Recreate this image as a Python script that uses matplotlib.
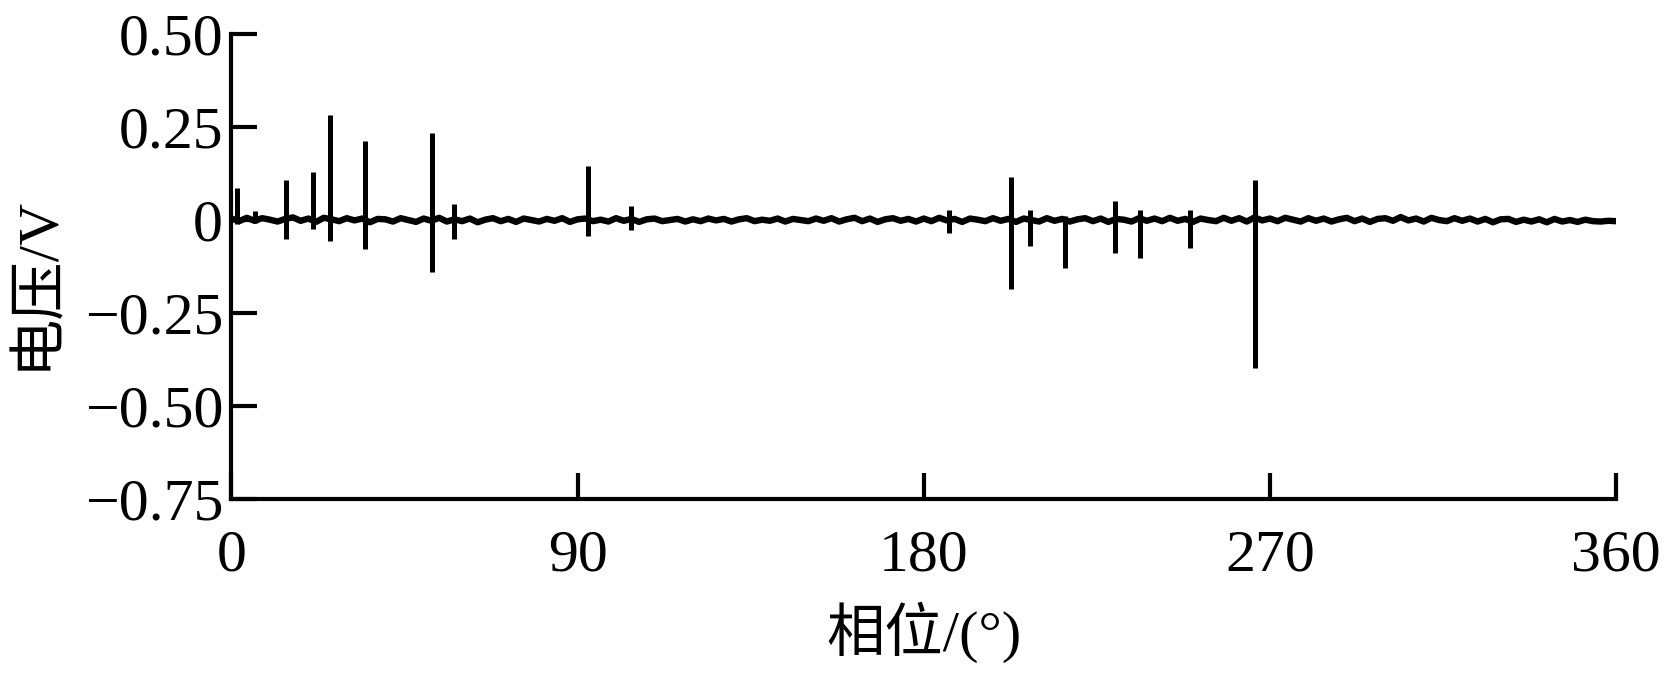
import matplotlib.pyplot as plt
import numpy as np

plt.rcParams['font.family'] = ['Liberation Serif', 'Noto Sans CJK SC']
plt.rcParams['axes.unicode_minus'] = True

# baseline noise, sampled every 2 degrees from 0 to 360 (V)
noise_phase = np.arange(0, 361, 2)
noise = [
    0.004, -0.003, 0.006, -0.002, 0.005, 0.001, -0.004, 0.003, 0.007, -0.002,
    0.004, -0.005, 0.006, 0.002, -0.003, 0.005, -0.001, 0.004, -0.006, 0.003,
    0.002, -0.004, 0.005, 0.000, -0.005, 0.004, -0.002, 0.006, -0.004, 0.002,
    -0.003, 0.004, -0.006, 0.001, 0.005, -0.003, 0.003, -0.005, 0.004, 0.000,
    -0.004, 0.003, -0.002, 0.005, -0.005, 0.002, 0.004, -0.003, 0.001, -0.004,
    0.005, -0.002, 0.003, -0.005, 0.002, 0.004, -0.003, 0.000, 0.003, -0.004,
    0.002, -0.003, 0.004, -0.001, 0.003, -0.004, 0.002, 0.005, -0.003, 0.001,
    -0.002, 0.004, -0.004, 0.003, 0.000, -0.003, 0.004, -0.002, 0.005, -0.004,
    0.002, 0.006, -0.003, 0.004, -0.005, 0.002, 0.005, -0.002, 0.003, -0.004,
    0.004, -0.003, 0.006, -0.001, 0.003, -0.005, 0.004, 0.001, -0.003, 0.005,
    -0.002, 0.003, -0.005, 0.004, 0.000, -0.004, 0.005, -0.002, 0.003, -0.004,
    0.002, 0.005, -0.003, 0.004, -0.005, 0.003, 0.001, -0.004, 0.005, -0.002,
    0.004, -0.003, 0.006, -0.002, 0.003, -0.005, 0.004, 0.000, -0.003, 0.006,
    -0.002, 0.005, -0.004, 0.007, -0.001, 0.004, -0.003, 0.006, 0.001, -0.004,
    0.005, -0.002, 0.004, -0.004, 0.002, 0.006, -0.003, 0.004, -0.005, 0.003,
    0.005, -0.002, 0.008, -0.001, 0.004, -0.004, 0.006, 0.000, -0.003, 0.005,
    -0.002, 0.004, -0.004, 0.003, -0.006, 0.002, 0.003, -0.005, 0.001, -0.004,
    0.002, -0.006, 0.003, -0.004, 0.000, -0.005, 0.001, -0.003, -0.004, -0.002,
    -0.003,
]

# discharge pulses: phase (deg), positive peak (V), negative peak (V)
pulse_phase = [1.5, 6.2, 14.2, 21.2, 25.6, 34.6, 52.1, 57.8, 92.8, 103.9,
               186.6, 202.7, 207.7, 216.7, 229.8, 236.3, 249.3, 266.1]
pulse_max = [0.087, 0.025, 0.108, 0.130, 0.283, 0.213, 0.233, 0.042, 0.146, 0.038,
             0.027, 0.117, 0.027, 0.010, 0.050, 0.027, 0.027, 0.108]
pulse_min = [-0.010, -0.008, -0.050, -0.024, -0.056, -0.077, -0.140, -0.050, -0.042, -0.026,
             -0.035, -0.186, -0.071, -0.130, -0.089, -0.103, -0.074, -0.398]

fig = plt.figure(figsize=(16.65, 6.8), dpi=100)
ax = fig.add_axes([0.139, 0.266, 0.8316, 0.684])

ax.plot(noise_phase, noise, color='black', lw=4.6)
ax.vlines(pulse_phase, pulse_min, pulse_max, color='black', lw=3.6)

ax.set_xlim(0, 360)
ax.set_ylim(-0.75, 0.5)
ax.set_xticks([0, 90, 180, 270, 360])
ax.set_yticks([0.5, 0.25, 0, -0.25, -0.5, -0.75])
ax.set_yticklabels(['0.50', '0.25', '0', '\u22120.25', '\u22120.50', '\u22120.75'])

for s in ['top', 'right']:
    ax.spines[s].set_visible(False)
for s in ['left', 'bottom']:
    ax.spines[s].set_linewidth(3)
ax.tick_params(direction='in', length=19, width=3, labelsize=43)
ax.tick_params(axis='x', pad=22)
ax.tick_params(axis='y', pad=6)

fig.text(37 / 1665, 1 - 282 / 680, '电压/V', rotation=90, ha='center', va='center', fontsize=42)
fig.text(924 / 1665, 1 - 632 / 680, '相位/(°)', ha='center', va='center', fontsize=42)

fig.savefig('out.png', dpi=100)
